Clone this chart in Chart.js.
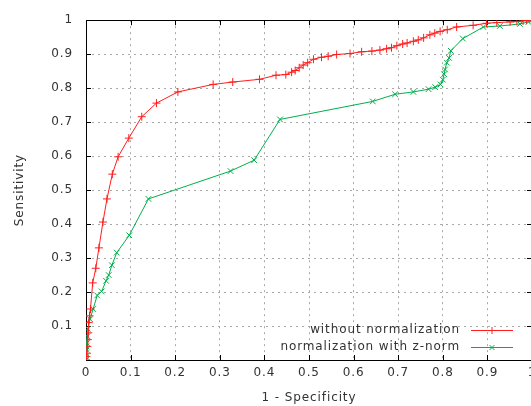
<!DOCTYPE html>
<html>
<head>
<meta charset="utf-8">
<script src="https://cdn.jsdelivr.net/npm/chart.js@4"></script>
<style>
html,body{margin:0;padding:0;background:#fff;overflow:hidden;}
#wrap{width:560px;height:406px;}
</style>
</head>
<body>
<div id="wrap"><canvas id="c" width="560" height="406" style="width:560px;height:406px"></canvas></div>
<script>
const seriesNames = ['without normalization', 'normalization with z-norm'];
const xTickLabels = ['0','0.1','0.2','0.3','0.4','0.5','0.6','0.7','0.8','0.9','1'];
const yTickLabels = ['','0.1','0.2','0.3','0.4','0.5','0.6','0.7','0.8','0.9','1'];

const redX = [0,0.001,0.002,0.003,0.004,0.005,0.006,0.008,0.01,0.015,0.022,0.029,0.038,0.047,0.059,0.072,0.096,0.125,0.158,0.206,0.285,0.329,0.389,0.426,0.448,0.461,0.469,0.478,0.487,0.497,0.51,0.528,0.543,0.562,0.592,0.618,0.641,0.659,0.674,0.685,0.697,0.71,0.72,0.734,0.745,0.757,0.771,0.782,0.794,0.81,0.831,0.868,0.898,0.921,0.951,0.966,0.98,0.988,1];
const redY = [0,0.01,0.02,0.04,0.06,0.08,0.11,0.13,0.15,0.227,0.27,0.33,0.406,0.474,0.547,0.598,0.653,0.716,0.756,0.789,0.811,0.818,0.826,0.838,0.84,0.847,0.852,0.86,0.868,0.875,0.885,0.891,0.894,0.899,0.902,0.907,0.909,0.912,0.916,0.919,0.925,0.93,0.933,0.938,0.942,0.948,0.957,0.962,0.967,0.972,0.98,0.985,0.991,0.993,0.995,0.996,0.998,1,1];

const greenX = [0,0,0,0.001,0.001,0.002,0.003,0.004,0.009,0.016,0.025,0.035,0.045,0.051,0.058,0.069,0.097,0.14,0.324,0.377,0.435,0.643,0.693,0.734,0.768,0.783,0.795,0.8,0.803,0.805,0.809,0.814,0.818,0.845,0.891,0.928,0.973,0.992,1];
const greenY = [0,0.01,0.02,0.03,0.04,0.05,0.07,0.092,0.12,0.15,0.19,0.202,0.233,0.25,0.279,0.316,0.367,0.474,0.556,0.588,0.708,0.761,0.782,0.789,0.797,0.803,0.811,0.825,0.841,0.855,0.875,0.889,0.91,0.946,0.98,0.983,0.989,0.995,1];

const RED = 'rgb(255,30,30)';
const GREEN = 'rgb(0,175,75)';
const FONT = {family: "'DejaVu Sans', sans-serif", size: 12};
const TXT = '#333333';
const SPACING = '0.9px';

function pts(xs, ys){ return xs.map((x,i)=>({x:x, y:ys[i]})); }

const framePlugin = {
  id: 'frame',
  beforeUpdate(chart){ chart.ctx.letterSpacing = SPACING; },
  beforeLayout(chart){ chart.ctx.letterSpacing = SPACING; },
  beforeDraw(chart){ chart.ctx.letterSpacing = SPACING; },
  beforeDatasetsDraw(chart){
    const {ctx, chartArea:a, scales} = chart;
    ctx.save();
    ctx.strokeStyle = '#000';
    ctx.lineWidth = 1;
    ctx.beginPath();
    scales.x.ticks.forEach((t)=>{
      const px = Math.round(scales.x.getPixelForValue(t.value))+0.5;
      ctx.moveTo(px, a.bottom); ctx.lineTo(px, a.bottom-5);
      ctx.moveTo(px, a.top); ctx.lineTo(px, a.top+5);
    });
    scales.y.ticks.forEach((t)=>{
      const py = Math.round(scales.y.getPixelForValue(t.value))+0.5;
      ctx.moveTo(a.left, py); ctx.lineTo(a.left+5, py);
      ctx.moveTo(a.right, py); ctx.lineTo(a.right-5, py);
    });
    ctx.stroke();
    ctx.strokeRect(Math.round(a.left)+0.5, Math.round(a.top)+0.5, Math.round(a.right-a.left), Math.round(a.bottom-a.top));
    ctx.restore();
  },
  afterDraw(chart){
    const ctx = chart.ctx;
    ctx.save();
    ctx.letterSpacing = SPACING;
    ctx.font = "12px 'DejaVu Sans', sans-serif";
    ctx.textAlign = 'right';
    ctx.textBaseline = 'middle';
    const rows = [{y:330, c:RED, s:'plus'}, {y:347, c:GREEN, s:'x'}];
    rows.forEach((r,i)=>{
      ctx.fillStyle = TXT;
      ctx.fillText(seriesNames[i], 460, r.y);
      ctx.strokeStyle = r.c;
      ctx.lineWidth = 1;
      ctx.beginPath();
      ctx.moveTo(471, r.y+0.5); ctx.lineTo(513, r.y+0.5);
      const cx = 492, cy = r.y+0.5, d = 3.5;
      if (r.s === 'plus'){
        ctx.moveTo(cx-d, cy); ctx.lineTo(cx+d, cy);
        ctx.moveTo(cx, cy-d); ctx.lineTo(cx, cy+d);
      } else {
        ctx.moveTo(cx-2.5, cy-2.5); ctx.lineTo(cx+2.5, cy+2.5);
        ctx.moveTo(cx-2.5, cy+2.5); ctx.lineTo(cx+2.5, cy-2.5);
      }
      ctx.stroke();
    });
    ctx.restore();
  }
};

new Chart(document.getElementById('c'), {
  type: 'line',
  data: {
    datasets: [
      {label: seriesNames[0], data: pts(redX, redY), borderColor: RED, backgroundColor: RED,
       borderWidth: 1, pointStyle: 'cross', pointRadius: 4, pointBorderWidth: 1, pointHoverRadius: 4, tension: 0, fill: false},
      {label: seriesNames[1], data: pts(greenX, greenY), borderColor: GREEN, backgroundColor: GREEN,
       borderWidth: 1, pointStyle: 'crossRot', pointRadius: 4, pointBorderWidth: 1, pointHoverRadius: 4, tension: 0, fill: false}
    ]
  },
  options: {
    responsive: false,
    animation: false,
    devicePixelRatio: 1,
    layout: {padding: {top: 17, right: 28, left: 0, bottom: 0}},
    plugins: {legend: {display: false}, tooltip: {enabled: false}},
    scales: {
      x: {
        type: 'linear', min: 0, max: 1,
        ticks: {stepSize: 0.1, font: FONT, color: TXT, padding: 6, maxRotation: 0,
                callback: (v, i) => xTickLabels[i]},
        grid: {color: '#a8a8a8', drawTicks: false},
        border: {display: false, dash: [2,4]},
        title: {display: true, text: '1 - Specificity', font: FONT, color: TXT, padding: {top: 0, bottom: 1}},
        afterFit(s){ s.height = 46; }
      },
      y: {
        type: 'linear', min: 0, max: 1,
        ticks: {stepSize: 0.1, font: FONT, color: TXT, padding: 13,
                callback: (v, i) => yTickLabels[i]},
        grid: {color: '#a8a8a8', drawTicks: false},
        border: {display: false, dash: [2,4]},
        title: {display: true, text: 'Sensitivity', font: FONT, color: TXT, padding: {top: 13, bottom: 0}},
        afterFit(s){ s.width = 86; }
      }
    }
  },
  plugins: [framePlugin]
});
</script>
</body>
</html>
